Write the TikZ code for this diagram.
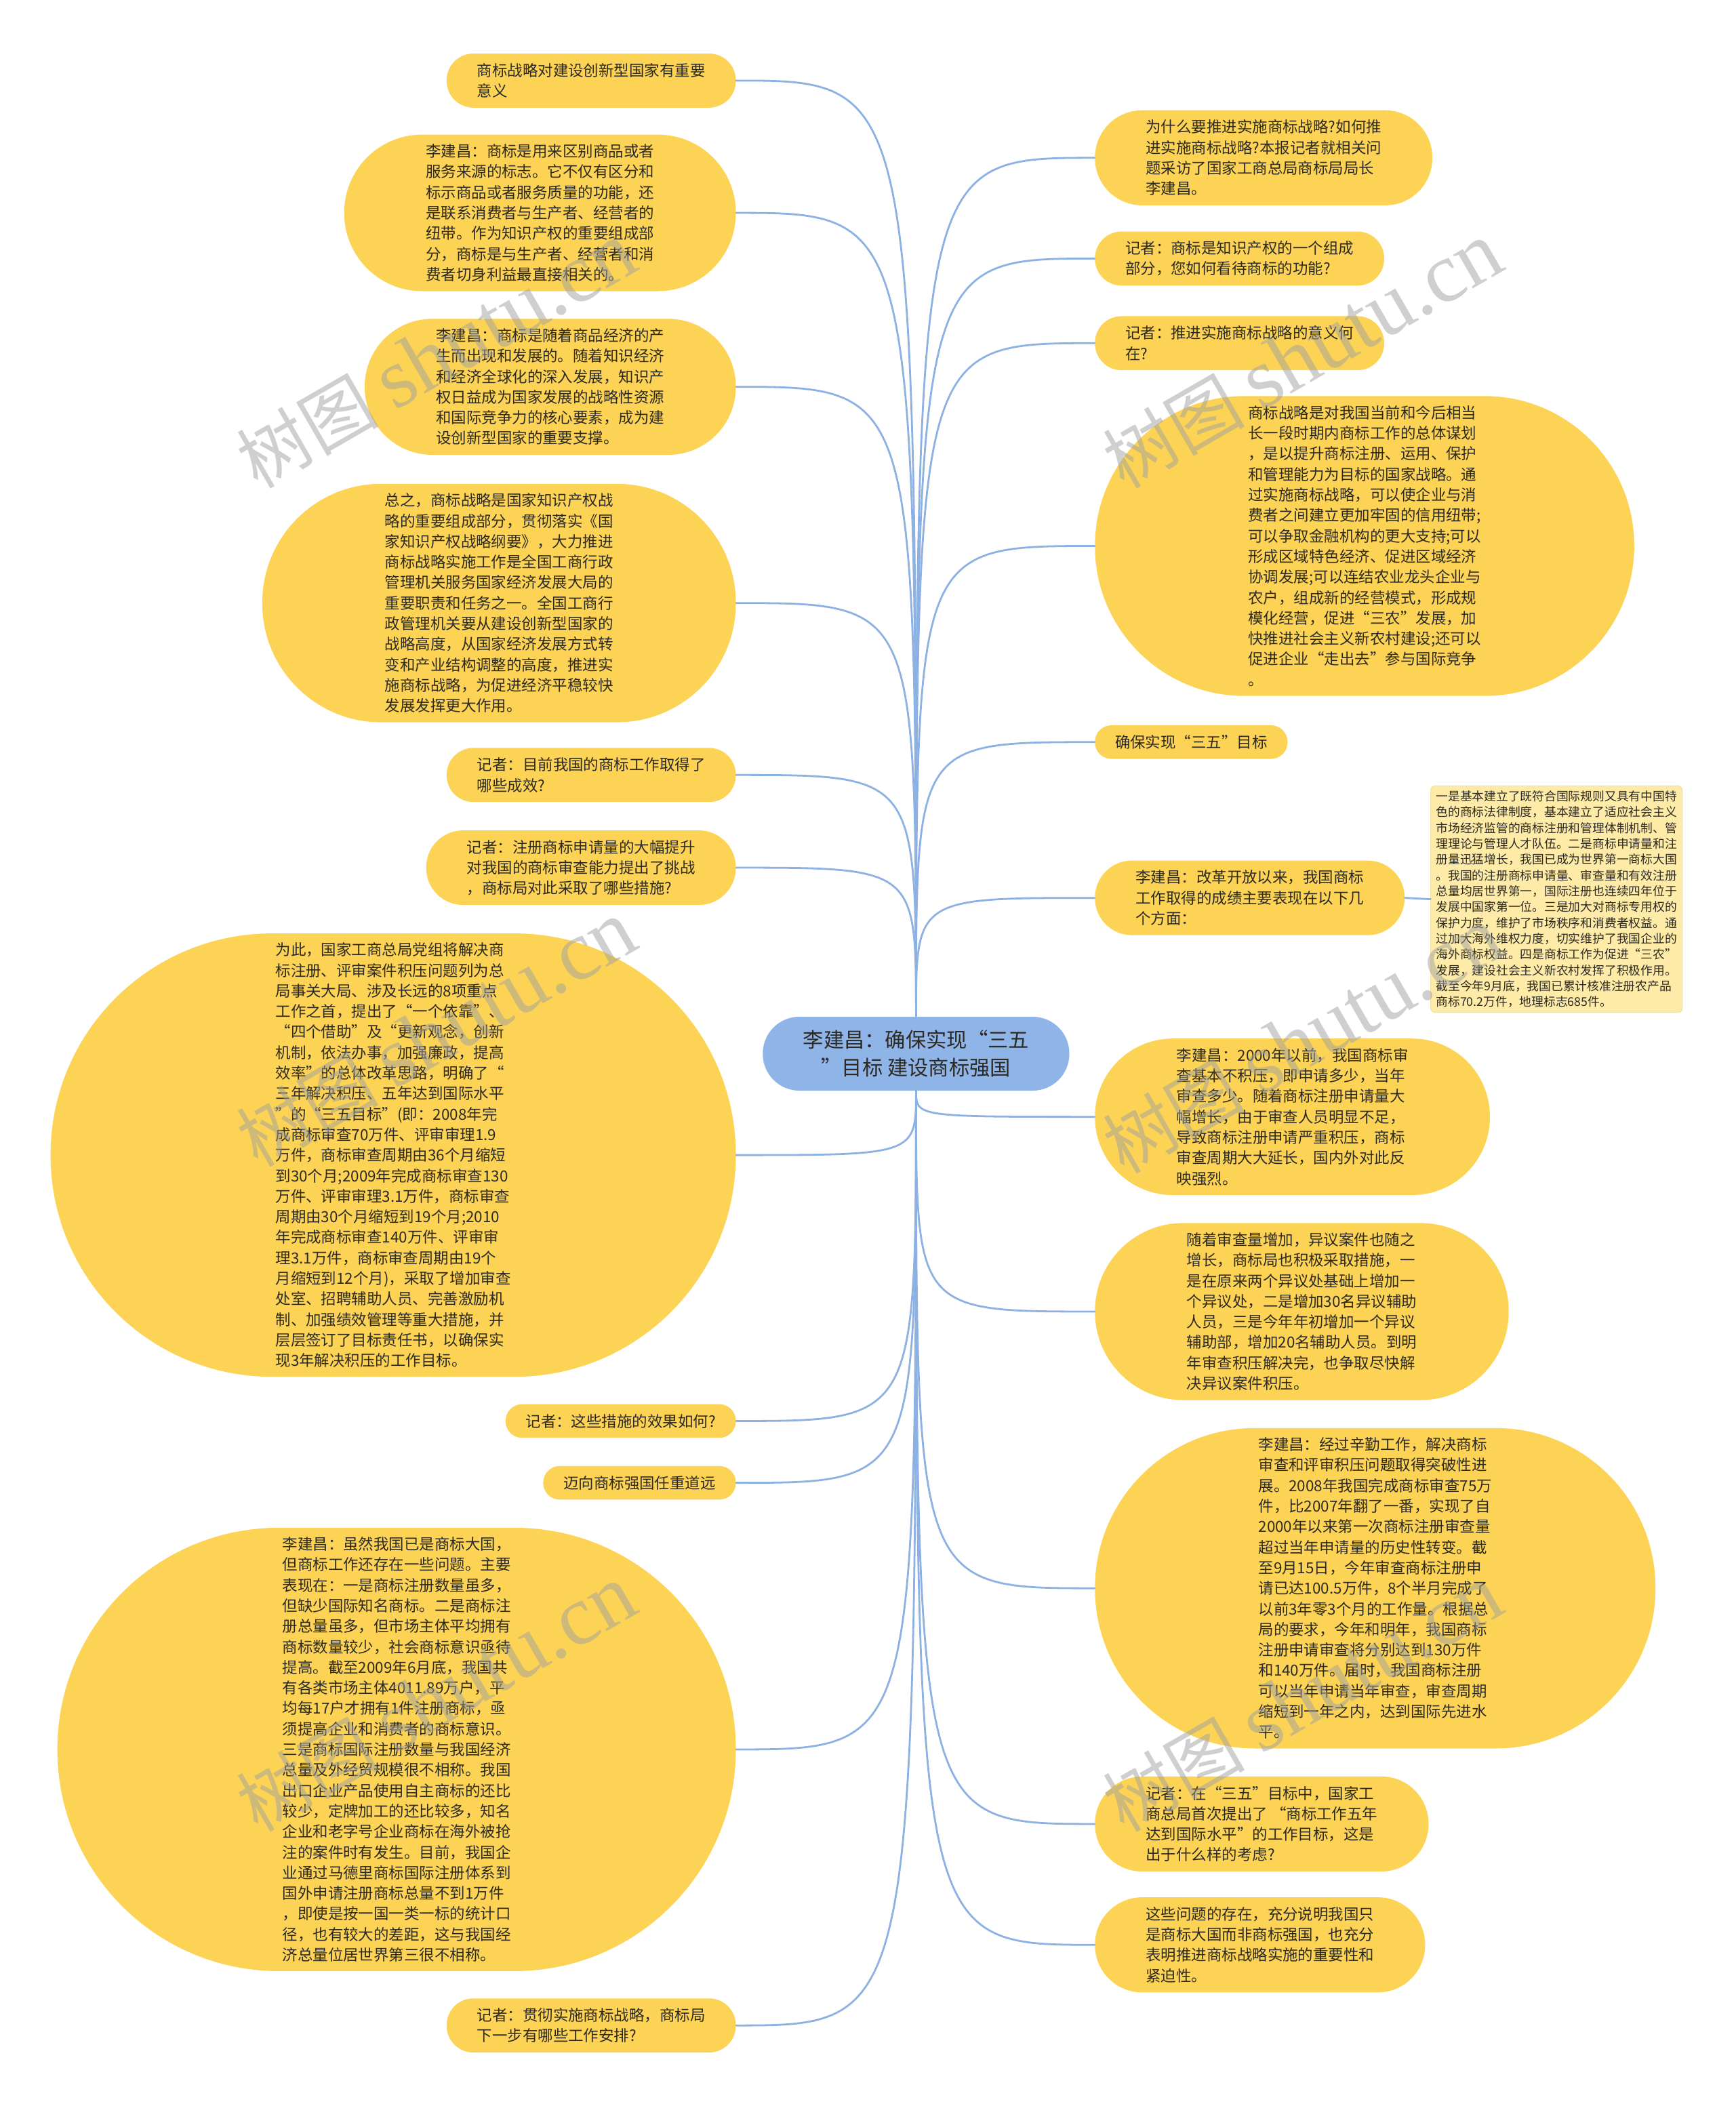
\documentclass[tikz,border=0pt]{standalone}
\usepackage{fontspec}
\setmainfont{Noto Sans CJK SC}
\newfontfamily\wmlatin{Liberation Serif}

\definecolor{nenvang}{RGB}{252,211,84}
\definecolor{nenxanh}{RGB}{143,180,232}
\definecolor{nenghi}{RGB}{254,235,168}
\definecolor{vienghi}{RGB}{246,218,130}
\definecolor{duongnoi}{RGB}{141,177,226}
\definecolor{chu}{RGB}{45,42,35}
\definecolor{chimmo}{RGB}{160,160,160}

\tikzset{
	% #1 = số dòng chữ
	box/.style={rectangle, fill=nenvang, text=chu, align=left,
		inner ysep=0.1cm,
		minimum height={(#1-1)*0.61cm+1cm},
		inner xsep={(#1-1)*0.305cm+0.6cm},
		rounded corners={(#1-1)*0.305cm+0.49cm},
		font=\fontsize{12.9pt}{17.4pt}\selectfont},
	rootbox/.style={rectangle, fill=nenxanh, text=chu, align=center,
		inner ysep=0.1cm, minimum height=2.2cm, inner xsep=1.2cm,
		rounded corners=1.09cm,
		font=\fontsize{17.4pt}{23.8pt}\selectfont},
	notebox/.style={rectangle, rounded corners=0.12cm, fill=nenghi, draw=vienghi,
		text=chu, align=left, inner xsep=0.16cm, inner ysep=0.14cm,
		font=\fontsize{10.2pt}{13.4pt}\selectfont},
	link/.style={draw=duongnoi, line width=1.6pt},
	wmtext/.style={text=chimmo, opacity=0.5, rotate=30,
		font=\fontsize{60pt}{64pt}\selectfont}
}

\begin{document}
\begin{tikzpicture}[x=0.04cm, y=-0.04cm, line cap=round, line join=round]
	
	% Khung hình
	\def\xl{548} \def\xr{815}
	\useasboundingbox (0,0) rectangle (1292,1568);
	\fill[white] (0,0) rectangle (1292,1568);
	
	% Nút trung tâm
	\node[rootbox] (root) at (682,784.5) {李建昌：确保实现“三五\\”目标 建设商标强国};
	
	% Các nút bên trái
	\node[box=2, anchor=east] (l1) at (\xl,60) {商标战略对建设创新型国家有重要\\意义};
	\node[box=7, anchor=east] (l2) at (\xl,158.5) {李建昌：商标是用来区别商品或者\\服务来源的标志。它不仅有区分和\\标示商品或者服务质量的功能，还\\是联系消费者与生产者、经营者的\\纽带。作为知识产权的重要组成部\\分，商标是与生产者、经营者和消\\费者切身利益最直接相关的。};
	\node[box=6, anchor=east] (l3) at (\xl,288) {李建昌：商标是随着商品经济的产\\生而出现和发展的。随着知识经济\\和经济全球化的深入发展，知识产\\权日益成为国家发展的战略性资源\\和国际竞争力的核心要素，成为建\\设创新型国家的重要支撑。};
	\node[box=11, anchor=east] (l4) at (\xl,449) {总之，商标战略是国家知识产权战\\略的重要组成部分，贯彻落实《国\\家知识产权战略纲要》，大力推进\\商标战略实施工作是全国工商行政\\管理机关服务国家经济发展大局的\\重要职责和任务之一。全国工商行\\政管理机关要从建设创新型国家的\\战略高度，从国家经济发展方式转\\变和产业结构调整的高度，推进实\\施商标战略，为促进经济平稳较快\\发展发挥更大作用。};
	\node[box=2, anchor=east] (l5) at (\xl,577) {记者：目前我国的商标工作取得了\\哪些成效?};
	\node[box=3, anchor=east] (l6) at (\xl,646) {记者：注册商标申请量的大幅提升\\对我国的商标审查能力提出了挑战\\，商标局对此采取了哪些措施?};
	\node[box=21, anchor=east] (l7) at (\xl,860) {为此，国家工商总局党组将解决商\\标注册、评审案件积压问题列为总\\局事关大局、涉及长远的8项重点\\工作之首，提出了“一个依靠”、\\“四个借助”及“更新观念，创新\\机制，依法办事，加强廉政，提高\\效率”的总体改革思路，明确了“\\三年解决积压、五年达到国际水平\\”的“三五目标”(即：2008年完\\成商标审查70万件、评审审理1.9\\万件，商标审查周期由36个月缩短\\到30个月;2009年完成商标审查130\\万件、评审审理3.1万件，商标审查\\周期由30个月缩短到19个月;2010\\年完成商标审查140万件、评审审\\理3.1万件，商标审查周期由19个\\月缩短到12个月)，采取了增加审查\\处室、招聘辅助人员、完善激励机\\制、加强绩效管理等重大措施，并\\层层签订了目标责任书，以确保实\\现3年解决积压的工作目标。};
	\node[box=1, anchor=east] (l8) at (\xl,1058) {记者：这些措施的效果如何?};
	\node[box=1, anchor=east] (l9) at (\xl,1104) {迈向商标强国任重道远};
	\node[box=21, anchor=east] (l10) at (\xl,1302.5) {李建昌：虽然我国已是商标大国，\\但商标工作还存在一些问题。主要\\表现在：一是商标注册数量虽多，\\但缺少国际知名商标。二是商标注\\册总量虽多，但市场主体平均拥有\\商标数量较少，社会商标意识亟待\\提高。截至2009年6月底，我国共\\有各类市场主体4011.89万户，平\\均每17户才拥有1件注册商标，亟\\须提高企业和消费者的商标意识。\\三是商标国际注册数量与我国经济\\总量及外经贸规模很不相称。我国\\出口企业产品使用自主商标的还比\\较少，定牌加工的还比较多，知名\\企业和老字号企业商标在海外被抢\\注的案件时有发生。目前，我国企\\业通过马德里商标国际注册体系到\\国外申请注册商标总量不到1万件\\，即使是按一国一类一标的统计口\\径，也有较大的差距，这与我国经\\济总量位居世界第三很不相称。};
	\node[box=2, anchor=east] (l11) at (\xl,1508) {记者：贯彻实施商标战略，商标局\\下一步有哪些工作安排?};
	
	% Các nút bên phải
	\node[box=4, anchor=west] (r1) at (\xr,117.5) {为什么要推进实施商标战略?如何推\\进实施商标战略?本报记者就相关问\\题采访了国家工商总局商标局局长\\李建昌。};
	\node[box=2, anchor=west] (r2) at (\xr,192.5) {记者：商标是知识产权的一个组成\\部分，您如何看待商标的功能?};
	\node[box=2, anchor=west] (r3) at (\xr,255.5) {记者：推进实施商标战略的意义何\\在?};
	\node[box=14, anchor=west] (r4) at (\xr,406.5) {商标战略是对我国当前和今后相当\\长一段时期内商标工作的总体谋划\\，是以提升商标注册、运用、保护\\和管理能力为目标的国家战略。通\\过实施商标战略，可以使企业与消\\费者之间建立更加牢固的信用纽带;\\可以争取金融机构的更大支持;可以\\形成区域特色经济、促进区域经济\\协调发展;可以连结农业龙头企业与\\农户，组成新的经营模式，形成规\\模化经营，促进“三农”发展，加\\快推进社会主义新农村建设;还可以\\促进企业“走出去”参与国际竞争\\。};
	\node[box=1, anchor=west] (r5) at (\xr,552.5) {确保实现“三五”目标};
	\node[box=3, anchor=west] (r6) at (\xr,668.5) {李建昌：改革开放以来，我国商标\\工作取得的成绩主要表现在以下几\\个方面：};
	\node[box=7, anchor=west] (r7) at (\xr,831.5) {李建昌：2000年以前，我国商标审\\查基本不积压，即申请多少，当年\\审查多少。随着商标注册申请量大\\幅增长，由于审查人员明显不足，\\导致商标注册申请严重积压，商标\\审查周期大大延长，国内外对此反\\映强烈。};
	\node[box=8, anchor=west] (r8) at (\xr,976.5) {随着审查量增加，异议案件也随之\\增长，商标局也积极采取措施，一\\是在原来两个异议处基础上增加一\\个异议处，二是增加30名异议辅助\\人员，三是今年年初增加一个异议\\辅助部，增加20名辅助人员。到明\\年审查积压解决完，也争取尽快解\\决异议案件积压。};
	\node[box=15, anchor=west] (r9) at (\xr,1182.5) {李建昌：经过辛勤工作，解决商标\\审查和评审积压问题取得突破性进\\展。2008年我国完成商标审查75万\\件，比2007年翻了一番，实现了自\\2000年以来第一次商标注册审查量\\超过当年申请量的历史性转变。截\\至9月15日，今年审查商标注册申\\请已达100.5万件，8个半月完成了\\以前3年零3个月的工作量。根据总\\局的要求，今年和明年，我国商标\\注册申请审查将分别达到130万件\\和140万件。届时，我国商标注册\\可以当年申请当年审查，审查周期\\缩短到一年之内，达到国际先进水\\平。};
	\node[box=4, anchor=west] (r10) at (\xr,1358) {记者：在“三五”目标中，国家工\\商总局首次提出了 “商标工作五年\\达到国际水平”的工作目标，这是\\出于什么样的考虑?};
	\node[box=4, anchor=west] (r11) at (\xr,1448) {这些问题的存在，充分说明我国只\\是商标大国而非商标强国，也充分\\表明推进商标战略实施的重要性和\\紧迫性。};
	
	% Ghi chú
	\node[notebox, anchor=west] (note) at (1065,669.5) {一是基本建立了既符合国际规则又具有中国特\\色的商标法律制度，基本建立了适应社会主义\\市场经济监管的商标注册和管理体制机制、管\\理理论与管理人才队伍。二是商标申请量和注\\册量迅猛增长，我国已成为世界第一商标大国\\。我国的注册商标申请量、审查量和有效注册\\总量均居世界第一，国际注册也连续四年位于\\发展中国家第一位。三是加大对商标专用权的\\保护力度，维护了市场秩序和消费者权益。通\\过加大海外维权力度，切实维护了我国企业的\\海外商标权益。四是商标工作为促进“三农”\\发展，建设社会主义新农村发挥了积极作用。\\截至今年9月底，我国已累计核准注册农产品\\商标70.2万件，地理标志685件。};
	
	% Đường nối
	\foreach \n in {l1,l2,l3,l4,l5,l6}
		\draw[link] (root.north) .. controls (root.north |- \n.east) .. (\n.east);
	\foreach \n in {l7,l8,l9,l10,l11}
		\draw[link] (root.south) .. controls (root.south |- \n.east) .. (\n.east);
	\foreach \n in {r1,r2,r3,r4,r5,r6}
		\draw[link] (root.north) .. controls (root.north |- \n.west) .. (\n.west);
	\foreach \n in {r7,r8,r9,r10,r11}
		\draw[link] (root.south) .. controls (root.south |- \n.west) .. (\n.west);
	\draw[link] (r6.east) -- (note.west);
	
	% Chữ chìm
	\foreach \wx/\wy [count=\k] in {325/265, 970/265, 325/770, 970/775, 325/1265, 970/1265}
		\node[wmtext] (wm\k) at (\wx,\wy) {树图 {\wmlatin\fontsize{72pt}{74pt}\selectfont shutu.cn}};
	
\end{tikzpicture}
\end{document}
